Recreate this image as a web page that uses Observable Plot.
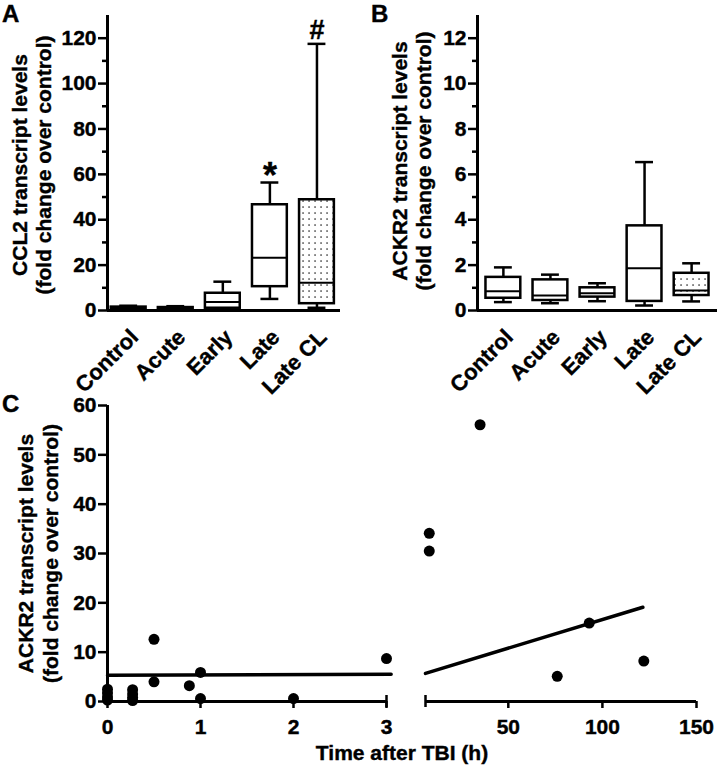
<!DOCTYPE html>
<html>
<head>
<meta charset="utf-8">
<script src="https://cdn.jsdelivr.net/npm/d3@7"></script>
<script src="https://cdn.jsdelivr.net/npm/@observablehq/plot@0.6"></script>
<style>
  html, body { margin: 0; padding: 0; background: #fff; }
  #wrap { position: relative; width: 717px; height: 774px; overflow: hidden;
          font-family: "Liberation Sans", Arial, sans-serif; }
  .panel { position: absolute; }
  #wrap svg text { stroke: #000; stroke-width: 0.4px; }
  .letter { position: absolute; font-weight: bold; font-size: 24px; line-height: 1.1; color: #000;
            -webkit-text-stroke: 0.4px #000; }
</style>
</head>
<body>
<div id="wrap">
  <div class="letter" style="left:2px;top:1px">A</div>
  <div class="letter" style="left:371px;top:1px">B</div>
  <div class="letter" style="left:2px;top:391px">C</div>
</div>
<script>
// ---------- data ----------
const groups = ["Control", "Acute", "Early", "Late", "Late CL"];

// Panel A: CCL2 transcript levels (box summaries)
const ccl2Min    = [0.3, 0.3, 0.3, 5.1, 1.2];
const ccl2Q1     = [0.6, 0.5, 1.0, 10.5, 3.0];
const ccl2Median = [0.9, 0.8, 3.7, 23.2, 12.2];
const ccl2Q3     = [1.5, 1.3, 7.6, 46.6, 48.8];
const ccl2Max    = [2.1, 1.9, 12.7, 56.4, 117.5];
const ccl2Sig    = ["", "", "", "*", "#"];
const ccl2Major  = [0, 20, 40, 60, 80, 100, 120];
const ccl2Minor  = [10, 30, 50, 70, 90, 110];

// Panel B: ACKR2 transcript levels (box summaries)
const ackr2Min    = [0.37, 0.32, 0.41, 0.22, 0.40];
const ackr2Q1     = [0.54, 0.44, 0.59, 0.40, 0.66];
const ackr2Median = [0.85, 0.66, 0.76, 1.86, 0.88];
const ackr2Q3     = [1.46, 1.35, 1.00, 3.73, 1.64];
const ackr2Max    = [1.90, 1.58, 1.20, 6.54, 2.08];
const ackr2Sig    = ["", "", "", "", ""];
const ackr2Major  = [0, 2, 4, 6, 8, 10, 12];
const ackr2Minor  = [1, 3, 5, 7, 9, 11];

// Panel C: ACKR2 vs time after TBI
const earlyTime  = [0, 0, 0, 0, 0.27, 0.27, 0.27, 0.27, 0.5, 0.5, 0.88, 1, 1, 2, 3];
const earlyAckr2 = [2.5, 1.7, 0.9, 0.3, 2.4, 1.5, 0.8, 0.2, 12.6, 4.0, 3.2, 5.9, 0.6, 0.6, 8.7];
const lateTime   = [8, 8, 35, 76, 93, 122];
const lateAckr2  = [34.1, 30.5, 56.1, 5.1, 15.9, 8.2];
const earlyFitTime  = [0, 3.05];
const earlyFitAckr2 = [5.3, 5.5];
const lateFitTime   = [6, 121.5];
const lateFitAckr2  = [5.7, 19.1];
const cYTicks     = [0, 10, 20, 30, 40, 50, 60];
const cEarlyTicks = [0, 1, 2, 3];
const cLateTicks  = [50, 100, 150];
const cEarlyBreak = [3];
const cLateBreak  = [6];

const titleCCL2  = "CCL2 transcript levels\n(fold change over control)";
const titleACKR2 = "ACKR2 transcript levels\n(fold change over control)";
const titleTime  = "Time after TBI (h)";

// ---------- helpers ----------
const FONT = "'Liberation Sans', Arial, sans-serif";
const baseStyle = {fontFamily: FONT, fontWeight: "bold", fontSize: "21px",
                   background: "transparent", overflow: "visible", color: "black"};
const intFmt = d => String(d);

function addDots(svg, id) {
  const ns = "http://www.w3.org/2000/svg";
  const defs = document.createElementNS(ns, "defs");
  const pat = document.createElementNS(ns, "pattern");
  pat.setAttribute("id", id);
  pat.setAttribute("patternUnits", "userSpaceOnUse");
  pat.setAttribute("width", "6");
  pat.setAttribute("height", "6");
  const bg = document.createElementNS(ns, "rect");
  bg.setAttribute("width", "6"); bg.setAttribute("height", "6"); bg.setAttribute("fill", "white");
  const dot = document.createElementNS(ns, "rect");
  dot.setAttribute("x", "2.4"); dot.setAttribute("y", "2.4");
  dot.setAttribute("width", "1.3"); dot.setAttribute("height", "1.3"); dot.setAttribute("fill", "black");
  pat.appendChild(bg); pat.appendChild(dot);
  defs.appendChild(pat);
  svg.insertBefore(defs, svg.firstChild);
}

function boxPanel(cfg) {
  const rows = groups.map((g, i) => ({
    i, g, min: cfg.min[i], q1: cfg.q1[i], median: cfg.median[i],
    q3: cfg.q3[i], max: cfg.max[i], sig: cfg.sig[i]
  }));
  const half = 0.37, cap = 0.19;
  const svg = Plot.plot({
    width: cfg.width, height: 390,
    marginTop: 15, marginBottom: 80, marginLeft: cfg.marginLeft, marginRight: cfg.marginRight,
    style: baseStyle,
    x: {domain: cfg.xDomain, axis: null},
    y: {domain: [0, cfg.yMax], label: null},
    marks: [
      Plot.ruleX(rows, {x: "i", y1: "min", y2: "max", strokeWidth: 2.5}),
      Plot.ruleY(rows, {y: "min", x1: d => d.i - cap, x2: d => d.i + cap, strokeWidth: 2.5}),
      Plot.ruleY(rows, {y: "max", x1: d => d.i - cap, x2: d => d.i + cap, strokeWidth: 2.5}),
      Plot.rect(rows, {x1: d => d.i - half, x2: d => d.i + half, y1: "q1", y2: "q3",
        fill: d => d.g === "Late CL" ? `url(#${cfg.patternId})` : "white",
        stroke: "black", strokeWidth: 2.5}),
      Plot.ruleY(rows, {y: "median", x1: d => d.i - half, x2: d => d.i + half, strokeWidth: 2}),
      Plot.ruleY([0], {strokeWidth: 3}),
      Plot.ruleX([cfg.xDomain[0]], {strokeWidth: 3}),
      Plot.axisY({ticks: cfg.minor, tickSize: 5, tickFormat: () => "", strokeWidth: 2.5, label: null}),
      Plot.axisY({ticks: cfg.major, tickSize: 9, tickPadding: 2, strokeWidth: 2.5, tickFormat: intFmt,
                  fontSize: 21, fontWeight: "bold", label: null}),
      Plot.text(rows, {x: "i", frameAnchor: "bottom", text: "g", rotate: -45,
        textAnchor: "end", lineAnchor: "middle", dx: 6, dy: 23, fontSize: 22, fontWeight: "bold"}),
      Plot.text(rows.filter(d => d.sig === "#"), {x: "i", y: "max", text: "sig",
        lineAnchor: "bottom", dy: -5, fontSize: 27, fontWeight: "bold"}),
      Plot.text(rows.filter(d => d.sig === "*"), {x: "i", y: "max", text: "sig",
        lineAnchor: "bottom", dy: 5, fontSize: 36, fontWeight: "bold"}),
      Plot.text([cfg.title], {frameAnchor: "left", text: d => d, rotate: -90,
        textAnchor: "middle", lineAnchor: "middle", lineHeight: 1.15,
        dx: cfg.titleDx, dy: cfg.titleDy, fontSize: 21, fontWeight: "bold"})
    ]
  });
  addDots(svg, cfg.patternId);
  return svg;
}

const wrap = document.getElementById("wrap");
function place(el, left, top) {
  el.classList.add("panel");
  el.style.left = left + "px";
  el.style.top = top + "px";
  wrap.appendChild(el);
}

// ---------- Panel A ----------
const svgA = boxPanel({
  min: ccl2Min, q1: ccl2Q1, median: ccl2Median, q3: ccl2Q3, max: ccl2Max, sig: ccl2Sig,
  yMax: 130, major: ccl2Major, minor: ccl2Minor,
  xDomain: [-0.45, 4.5], width: 360, marginLeft: 107, marginRight: 20,
  title: titleCCL2, titleDx: -76, titleDy: 2, patternId: "dotsA"
});
place(svgA, 0, 0);

// ---------- Panel B ----------
const svgB = boxPanel({
  min: ackr2Min, q1: ackr2Q1, median: ackr2Median, q3: ackr2Q3, max: ackr2Max, sig: ackr2Sig,
  yMax: 13, major: ackr2Major, minor: ackr2Minor,
  xDomain: [-0.55, 4.55], width: 357, marginLeft: 117, marginRight: 0,
  title: titleACKR2, titleDx: -66, titleDy: -2, patternId: "dotsB"
});
place(svgB, 360, 0);

// ---------- Panel C ----------
const early = earlyTime.map((t, k) => ({t, v: earlyAckr2[k]}));
const late = lateTime.map((t, k) => ({t, v: lateAckr2[k]}));
const earlyFit = earlyFitTime.map((t, k) => ({t, v: earlyFitAckr2[k]}));
const lateFit = lateFitTime.map((t, k) => ({t, v: lateFitAckr2[k]}));

const svgC1 = Plot.plot({
  width: 717, height: 384, marginTop: 15, marginBottom: 73, marginLeft: 107, marginRight: 331,
  style: baseStyle,
  x: {domain: [0, 3], axis: null},
  y: {domain: [0, 60], label: null},
  marks: [
    Plot.ruleY([0], {strokeWidth: 3}),
    Plot.ruleX([0], {strokeWidth: 3}),
    Plot.ruleX(cEarlyBreak, {y1: 0, y2: 0, insetTop: -6, insetBottom: -6, strokeWidth: 2.5}),
    Plot.axisX({ticks: cEarlyTicks, tickSize: 7, tickPadding: 11, strokeWidth: 2.5, tickFormat: intFmt,
                fontSize: 21, fontWeight: "bold", label: null}),
    Plot.axisY({ticks: cYTicks, tickSize: 9, tickPadding: 2, strokeWidth: 2.5, tickFormat: intFmt,
                fontSize: 21, fontWeight: "bold", label: null}),
    Plot.line(earlyFit, {x: "t", y: "v", strokeWidth: 3.5}),
    Plot.dot(early, {x: "t", y: "v", r: 5.5, fill: "black", stroke: "none"}),
    Plot.text([titleACKR2], {frameAnchor: "left", text: d => d, rotate: -90,
      textAnchor: "middle", lineAnchor: "middle", lineHeight: 1.2,
      dx: -70, dy: 0, fontSize: 21, fontWeight: "bold"}),
    Plot.text([titleTime], {frameAnchor: "bottom", text: d => d,
      textAnchor: "middle", lineAnchor: "middle", dx: 155, dy: 52, fontSize: 21, fontWeight: "bold"})
  ]
});
place(svgC1, 0, 390);

const svgC2 = Plot.plot({
  width: 717, height: 384, marginTop: 15, marginBottom: 73, marginLeft: 425, marginRight: 21,
  style: baseStyle,
  x: {domain: [6, 150], axis: null},
  y: {domain: [0, 60], axis: null},
  marks: [
    Plot.ruleY([0], {strokeWidth: 3}),
    Plot.ruleX(cLateBreak, {y1: 0, y2: 0, insetTop: -6, insetBottom: -6, strokeWidth: 2.5}),
    Plot.axisX({ticks: cLateTicks, tickSize: 7, tickPadding: 11, strokeWidth: 2.5, tickFormat: intFmt,
                fontSize: 21, fontWeight: "bold", label: null}),
    Plot.line(lateFit, {x: "t", y: "v", strokeWidth: 3.5}),
    Plot.dot(late, {x: "t", y: "v", r: 5.5, fill: "black", stroke: "none"})
  ]
});
place(svgC2, 0, 390);
</script>
</body>
</html>
